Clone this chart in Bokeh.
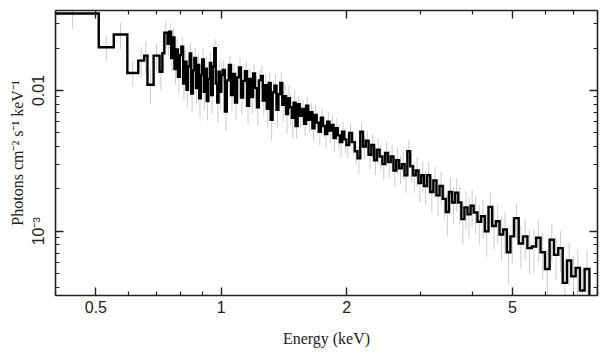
import math
import numpy as np
from bokeh.plotting import figure
from bokeh.models import LogAxis, FixedTicker, CustomJSTickFormatter
from bokeh.embed import file_html
from bokeh.resources import INLINE

# ---- data: grouped spectrum bins (keV edges) and unfolded flux (photons cm^-2 s^-1 keV^-1)
edges_soft = [0.380, 0.508, 0.552, 0.595, 0.632, 0.653, 0.665, 0.688, 0.711, 0.722, 0.730, 0.743,
              0.750, 0.758, 0.765, 0.772, 0.780, 0.787, 0.795, 0.802, 0.810, 0.817,
              0.825, 0.832, 0.840, 0.847, 0.855, 0.862, 0.870, 0.877, 0.885, 0.893,
              0.900, 0.908, 0.916, 0.923, 0.931, 0.939, 0.946, 0.954, 0.962, 0.970,
              0.978, 0.985, 0.993, 1.000, 1.008]
edges_mid = [1.020, 1.031, 1.043, 1.055, 1.067, 1.079, 1.091, 1.103, 1.115, 1.128,
             1.140, 1.153, 1.166, 1.179, 1.192, 1.205, 1.218, 1.231, 1.245, 1.258,
             1.272, 1.286, 1.300, 1.314, 1.328, 1.342, 1.357, 1.371, 1.386, 1.401,
             1.416, 1.431, 1.446, 1.461, 1.477, 1.492, 1.508,
             1.525, 1.543, 1.561, 1.580, 1.598, 1.617, 1.636, 1.655, 1.674, 1.694,
             1.714, 1.734, 1.754, 1.775, 1.796, 1.817, 1.838, 1.860, 1.882, 1.904,
             1.927, 1.950, 1.973, 1.997]
edges_hard = [2.028, 2.059, 2.091, 2.123, 2.156, 2.189, 2.223, 2.257, 2.292, 2.327,
              2.363, 2.399, 2.436, 2.474, 2.512, 2.551, 2.590, 2.630, 2.671, 2.712,
              2.754, 2.797, 2.840, 2.884, 2.929, 2.974, 3.020, 3.067,
              3.120, 3.174, 3.229, 3.285, 3.342, 3.400, 3.459, 3.519, 3.580, 3.642,
              3.705, 3.769, 3.834, 3.900, 3.967, 4.035,
              4.120, 4.205, 4.292, 4.380, 4.470, 4.562, 4.655, 4.750, 4.846, 4.944, 5.045,
              5.175, 5.300, 5.430, 5.565, 5.700, 5.840, 5.985,
              6.140, 6.290, 6.440, 6.600, 6.760, 6.920, 7.090, 7.260, 7.450, 7.650, 8.300]

flux_soft = [0.0352, 0.0203, 0.0250, 0.0133, 0.0163, 0.0177, 0.0110, 0.0177, 0.0136, 0.0184, 0.0257,
             0.0215, 0.0262, 0.0170, 0.0238, 0.0142, 0.0196, 0.0125, 0.0178, 0.0205, 0.0112,
             0.0160, 0.0101, 0.0148, 0.0183, 0.0095, 0.0139, 0.0170, 0.0104, 0.0152, 0.0088,
             0.0129, 0.0166, 0.0098, 0.0143, 0.0084, 0.0121, 0.0157, 0.0093, 0.0148, 0.0200,
             0.0112, 0.0082, 0.0136, 0.0098, 0.0129]
flux_mid = [0.0140, 0.0071, 0.0118, 0.0152, 0.0093, 0.0131, 0.0082, 0.0124, 0.0146, 0.0089,
            0.0117, 0.0137, 0.0078, 0.0121, 0.0090, 0.0132, 0.0104, 0.0076, 0.0118, 0.0127,
            0.0085, 0.0109, 0.0074, 0.0113, 0.0062, 0.0097, 0.0108, 0.0073, 0.0094, 0.0113,
            0.0079, 0.0091, 0.0068, 0.0088, 0.0076, 0.0064, 0.0082,
            0.0056, 0.0080, 0.0066, 0.0074, 0.0058, 0.0078, 0.0062, 0.0070, 0.0054, 0.0067,
            0.0059, 0.0051, 0.0064, 0.0056, 0.0049, 0.0060, 0.0052, 0.0057, 0.0046, 0.0054,
            0.0048, 0.0043, 0.0051, 0.0045]
flux_hard = [0.0041, 0.0050, 0.0043, 0.0037, 0.0033, 0.0051, 0.0040, 0.0044, 0.0035, 0.0041,
             0.0032, 0.0038, 0.0034, 0.0030, 0.0036, 0.0031, 0.0034, 0.0027, 0.0032, 0.0028,
             0.0030, 0.0025, 0.0037, 0.0029, 0.0025, 0.0027, 0.0022, 0.0025,
             0.0021, 0.0025, 0.0019, 0.0023, 0.0018, 0.0021, 0.0017, 0.00137, 0.0019, 0.0016,
             0.00188, 0.0016, 0.00122, 0.00148, 0.00132, 0.00152,
             0.00136, 0.00117, 0.00128, 0.00100, 0.00149, 0.00109, 0.00118, 0.00095, 0.00103,
             0.00071, 0.00092,
             0.00124, 0.00082, 0.00092, 0.00076, 0.00078, 0.00090, 0.00071,
             0.00054, 0.00087, 0.00068, 0.00076, 0.00043, 0.00062, 0.00048, 0.00055, 0.00038,
             0.00054, 0.00028]

relerr_soft = [0.22, 0.20, 0.21, 0.20, 0.24, 0.26, 0.28, 0.22, 0.27, 0.25, 0.22,
               0.18, 0.15, 0.20, 0.17, 0.22, 0.18, 0.23, 0.19, 0.17, 0.24,
               0.20, 0.25, 0.20, 0.18, 0.26, 0.21, 0.19, 0.24, 0.20, 0.27,
               0.22, 0.19, 0.25, 0.21, 0.27, 0.22, 0.19, 0.26, 0.20, 0.16,
               0.23, 0.28, 0.21, 0.25, 0.22]
relerr_mid = [0.18, 0.27, 0.19, 0.16, 0.23, 0.18, 0.25, 0.19, 0.17, 0.24,
              0.20, 0.18, 0.26, 0.19, 0.24, 0.18, 0.21, 0.26, 0.19, 0.18,
              0.24, 0.20, 0.26, 0.19, 0.29, 0.21, 0.20, 0.26, 0.22, 0.19,
              0.24, 0.22, 0.27, 0.23, 0.25, 0.28, 0.23,
              0.19, 0.15, 0.17, 0.16, 0.18, 0.15, 0.18, 0.16, 0.19, 0.17,
              0.18, 0.20, 0.17, 0.18, 0.20, 0.17, 0.19, 0.18, 0.21, 0.18,
              0.20, 0.22, 0.18, 0.20]
relerr_hard = [0.19, 0.16, 0.18, 0.20, 0.22, 0.16, 0.19, 0.18, 0.21, 0.19,
               0.22, 0.20, 0.21, 0.23, 0.20, 0.22, 0.21, 0.24, 0.21, 0.23,
               0.22, 0.25, 0.20, 0.23, 0.25, 0.24, 0.27, 0.25,
               0.26, 0.24, 0.28, 0.25, 0.29, 0.26, 0.29, 0.32, 0.27, 0.30,
               0.27, 0.30, 0.34, 0.30, 0.32, 0.30,
               0.29, 0.31, 0.30, 0.34, 0.28, 0.32, 0.31, 0.35, 0.33, 0.40, 0.35,
               0.28, 0.34, 0.32, 0.35, 0.34, 0.32, 0.36,
               0.38, 0.30, 0.34, 0.32, 0.42, 0.34, 0.38, 0.36, 0.42, 0.36, 0.45]

x_major = [0.5, 1, 2, 5]
x_minor = [0.4, 0.6, 0.7, 0.8, 0.9, 3, 4, 6, 7, 8]
y_major = [1e-3, 1e-2]
y_minor = [4e-4, 5e-4, 6e-4, 7e-4, 8e-4, 9e-4, 2e-3, 3e-3, 4e-3, 5e-3, 6e-3, 7e-3, 8e-3, 9e-3, 2e-2, 3e-2]

# ---- build step path and error bars from the data
edges = np.array(edges_soft + edges_mid + edges_hard)
flux = np.array(flux_soft + flux_mid + flux_hard)
relerr = np.array(relerr_soft + relerr_mid + relerr_hard)
lo_e, hi_e = edges[:-1], edges[1:]
centers = np.sqrt(lo_e * hi_e)

sx = np.empty(2 * len(flux)); sy = np.empty(2 * len(flux))
sx[0::2] = lo_e; sx[1::2] = hi_e
sy[0::2] = flux; sy[1::2] = flux

p = figure(x_axis_type="log", y_axis_type="log",
           x_range=(0.4, 8.0), y_range=(3.5e-4, 0.037),
           frame_width=542, frame_height=285,
           min_border_left=55, min_border_right=3, min_border_top=10, min_border_bottom=48,
           output_backend="svg", toolbar_location=None,
           background_fill_color="white", border_fill_color="white")
p.grid.visible = False
p.outline_line_color = None

p.segment(x0=centers, y0=flux * (1 - relerr), x1=centers, y1=flux * (1 + relerr),
          line_color="#cccccc", line_width=1)
p.line(sx, sy, line_color="black", line_width=2.4, line_join="miter")

xt = FixedTicker(ticks=x_major, minor_ticks=x_minor)
yt = FixedTicker(ticks=y_major, minor_ticks=y_minor)

def style(ax):
    ax.axis_line_color = "#222222"
    ax.axis_line_width = 1.6
    ax.major_tick_line_color = "#222222"
    ax.minor_tick_line_color = "#222222"
    ax.major_tick_line_width = 1.4
    ax.minor_tick_line_width = 1.2
    ax.major_tick_in = 8
    ax.major_tick_out = 0
    ax.minor_tick_in = 4
    ax.minor_tick_out = 0
    ax.major_label_text_font = "Liberation Sans"
    ax.major_label_text_font_size = "16px"
    ax.major_label_text_color = "#222222"
    ax.axis_label_text_font = "Liberation Serif"
    ax.axis_label_text_font_size = "16px"
    ax.axis_label_text_font_style = "normal"
    ax.axis_label_text_color = "#222222"

xa = p.xaxis[0]
xa.ticker = xt
xa.formatter = CustomJSTickFormatter(code="return String(tick);")
style(xa)
xa.axis_label = "Energy (keV)"
xa.major_label_standoff = 5
xa.axis_label_standoff = 14

ya = p.yaxis[0]
ya.ticker = yt
ya.formatter = CustomJSTickFormatter(code="return tick < 0.005 ? '10\u207b\u00b3' : '0.01';")
style(ya)
ya.major_label_orientation = "parallel"
ya.axis_label = "Photons cm\u207b\u00b2 s\u207b\u00b9 keV\u207b\u00b9"
ya.major_label_standoff = 8
ya.axis_label_standoff = 2

blank = CustomJSTickFormatter(code="return '';")
top = LogAxis(ticker=xt, formatter=blank)
style(top)
top.major_label_text_font_size = "0px"
top.major_label_standoff = 0
right = LogAxis(ticker=yt, formatter=blank)
style(right)
right.major_label_text_font_size = "0px"
right.major_label_standoff = 0
p.add_layout(top, "above")
p.add_layout(right, "right")

open("out.html", "w").write(file_html(p, INLINE))
